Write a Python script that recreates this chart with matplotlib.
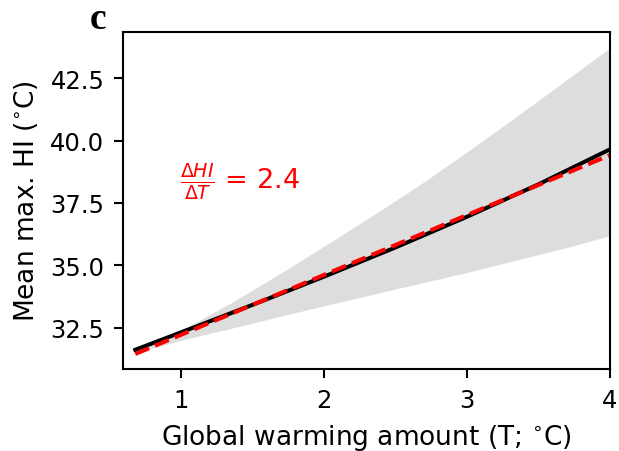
import matplotlib
matplotlib.use("Agg")
import matplotlib.pyplot as plt
import numpy as np

# Data
T_mean = [0.68, 1.0, 1.5, 2.0, 2.5, 3.0, 3.5, 4.0]
hi_mean = [31.62, 32.32, 33.42, 34.55, 35.72, 36.95, 38.25, 39.65]

T_band = [0.68, 1.0, 1.35, 1.7, 2.05, 2.4, 2.7, 3.0, 3.35, 3.7, 4.0]
hi_upper = [31.66, 32.40, 33.50, 34.70, 35.95, 37.22, 38.35, 39.55, 40.98, 42.45, 43.72]
hi_lower = [31.50, 32.00, 32.48, 32.97, 33.45, 33.92, 34.32, 34.72, 35.22, 35.72, 36.19]

slope = 2.4
intercept = 29.82

fig = plt.figure(figsize=(6.19, 4.52), dpi=100)
ax = fig.add_axes([0.1987, 0.1814, 0.7868, 0.7456])

ax.fill_between(T_band, hi_lower, hi_upper, color="#dddddd", linewidth=0)
ax.plot(T_mean, hi_mean, color="black", linewidth=2.9)
Tf = np.array([T_mean[0], T_mean[-1]])
ax.plot(Tf, slope * Tf + intercept, color="red", linestyle="--", linewidth=2.9)

ax.set_xlim(0.594, 4.0)
ax.set_ylim(30.85, 44.35)
ax.set_xticks([1, 2, 3, 4])
ax.set_yticks([32.5, 35.0, 37.5, 40.0, 42.5])
ax.tick_params(labelsize=17.5, length=6.7, width=1.5, pad=6.7)
for s in ax.spines.values():
    s.set_linewidth(1.5)

ax.set_xlabel(r"Global warming amount (T; $^{\circ}$C)", fontsize=19, labelpad=7.7)
ax.set_ylabel(r"Mean max. HI ($^{\circ}$C)", fontsize=19, labelpad=7.7)

ax.text(0.117, 0.56, r"$\frac{\Delta HI}{\Delta T}$ = 2.4", color="red",
        fontsize=19.5, transform=ax.transAxes, va="center", ha="left")

fig.text(0.158, 0.957, "c", fontsize=27, fontweight="bold",
         family="Liberation Serif", ha="center", va="center")

fig.savefig("out.png", dpi=100)
